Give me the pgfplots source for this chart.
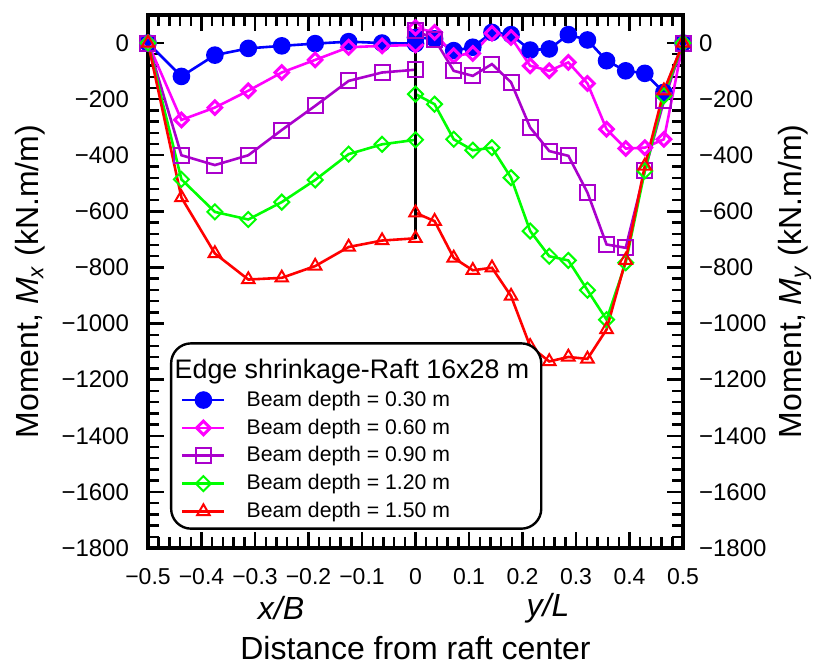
\documentclass[border=0pt]{standalone}
\usepackage{pgfplots}
\pgfplotsset{compat=1.18}
\usepackage{fontspec}
\setmainfont{Liberation Sans}
\definecolor{cblue}{RGB}{0,0,255}
\definecolor{cmag}{RGB}{255,0,255}
\definecolor{cpur}{RGB}{170,0,204}
\definecolor{cgrn}{RGB}{0,255,0}
\definecolor{cred}{RGB}{255,0,0}
\begin{document}
\begin{tikzpicture}
\begin{axis}[
  name=main,
  scale only axis, width=267.5pt, height=266.5pt,
  xmin=-0.5, xmax=0.5, ymin=-1800, ymax=100,
  xtick={-0.5,-0.4,-0.3,-0.2,-0.1,0,0.1,0.2,0.3,0.4,0.5},
  xticklabels={−0.5,−0.4,−0.3,−0.2,−0.1,0,0.1,0.2,0.3,0.4,0.5},
  ytick={-1800,-1600,-1400,-1200,-1000,-800,-600,-400,-200,0},
  yticklabels={−1800,−1600,−1400,−1200,−1000,−800,−600,−400,−200,0},
  minor x tick num=4, minor y tick num=4,
  tick align=inside,
  major tick length=8pt, minor tick length=5.5pt,
  tick style={line width=1.2pt, black},
  axis line style={line width=1.6pt},
  xticklabel style={font=\fontsize{11.5}{13}\selectfont, yshift=-6.5pt},
  yticklabel style={font=\fontsize{12}{14}\selectfont, xshift=-6pt},
  xlabel={Distance from raft center},
  x label style={font=\fontsize{16}{18}\selectfont, at={(axis description cs:0.5,-0.1876)}, anchor=center},
  ylabel={Moment, \textit{M}\textsubscript{\textit{x}} (kN.m/m)},
  y label style={font=\fontsize{16}{18}\selectfont, at={(axis description cs:-0.2206,0.5)}, anchor=center},
  legend cell align=left,
  legend image code/.code={\draw[mark repeat=2,mark phase=2] plot coordinates {(0pt,0pt) (10.5pt,0pt) (21pt,0pt)};},
  legend style={at={(0.041,0.034)}, anchor=south west, draw=black, line width=1.2pt,
    rounded corners=10pt, fill=white, inner xsep=5pt, inner ysep=3pt,
    font=\fontsize{10.6}{12}\selectfont, row sep=2.75pt, column sep=9.5pt,
    nodes={inner sep=1pt}},
]
\addlegendimage{empty legend}
\addlegendentry{\fontsize{13.4}{15}\selectfont\rule{0pt}{13.5pt}\hspace{-36pt}Edge shrinkage-Raft 16x28 m}

% Beam depth 0.30 m
\addplot[cblue, line width=1.3pt, sharp corners, mark=*, mark size=3.75pt, mark options={solid, sharp corners}]
 coordinates {(-0.5,0) (-0.4375,-119) (-0.375,-43) (-0.3125,-19) (-0.25,-10) (-0.1875,-2) (-0.125,5) (-0.0625,0) (0,-2)};
\addlegendentry{Beam depth = 0.30 m}
% Beam depth 0.60 m
\addplot[cmag, line width=1.3pt, sharp corners, mark=square, mark size=2.4pt, mark options={solid, sharp corners, rotate=45, fill=white, line width=1.5pt}]
 coordinates {(-0.5,0) (-0.4375,-274) (-0.375,-230) (-0.3125,-170) (-0.25,-105) (-0.1875,-60) (-0.125,-15) (-0.0625,-10) (0,-7)};
\addlegendentry{Beam depth = 0.60 m}
% Beam depth 0.90 m
\addplot[cpur, line width=1.3pt, sharp corners, mark=square, mark size=3.75pt, mark options={solid, sharp corners, line width=1pt}]
 coordinates {(-0.5,0) (-0.4375,-400) (-0.375,-435) (-0.3125,-400) (-0.25,-310) (-0.1875,-224) (-0.125,-135) (-0.0625,-105) (0,-95)};
\addlegendentry{Beam depth = 0.90 m}
% Beam depth 1.20 m
\addplot[cgrn, line width=1.3pt, sharp corners, mark=square, mark size=2.65pt, mark options={solid, sharp corners, rotate=45, line width=1pt}]
 coordinates {(-0.5,0) (-0.4375,-486) (-0.375,-602) (-0.3125,-629) (-0.25,-567) (-0.1875,-488) (-0.125,-396) (-0.0625,-361) (0,-345)};
\addlegendentry{Beam depth = 1.20 m}
% Beam depth 1.50 m
\addplot[cred, line width=1.3pt, sharp corners, mark=triangle, mark size=3.6pt, mark options={solid, sharp corners, line width=1pt}]
 coordinates {(-0.5,0) (-0.4375,-551) (-0.375,-750) (-0.3125,-843) (-0.25,-837) (-0.1875,-795) (-0.125,-727) (-0.0625,-704) (0,-696)};
\addlegendentry{Beam depth = 1.50 m}

% right half (y/L)
\addplot[cblue, line width=1.3pt, forget plot, mark=*, mark size=3.75pt, mark options={solid}]
 coordinates {(0,20) (0.0357,15) (0.0714,-27) (0.1071,-15) (0.1429,38) (0.1786,30) (0.2143,-25) (0.25,-21) (0.2857,30) (0.3214,11) (0.3571,-63) (0.3929,-99) (0.4286,-108) (0.4643,-176) (0.5,0)};
\addplot[cmag, line width=1.3pt, forget plot, mark=square, mark size=2.4pt, mark options={solid, rotate=45, fill=white, line width=1.5pt}]
 coordinates {(0,55) (0.0357,38) (0.0714,-45) (0.1071,-37) (0.1429,35) (0.1786,20) (0.2143,-81) (0.25,-99) (0.2857,-69) (0.3214,-144) (0.3571,-307) (0.3929,-376) (0.4286,-373) (0.4643,-343) (0.5,0)};
\addplot[cpur, line width=1.3pt, forget plot, mark=square, mark size=3.75pt, mark options={solid, line width=1pt}]
 coordinates {(0,45) (0.0357,14) (0.0714,-99) (0.1071,-117) (0.1429,-75) (0.1786,-140) (0.2143,-301) (0.25,-385) (0.2857,-402) (0.3214,-533) (0.3571,-718) (0.3929,-730) (0.4286,-456) (0.4643,-206) (0.5,0)};
\addplot[cgrn, line width=1.3pt, forget plot, mark=square, mark size=2.65pt, mark options={solid, rotate=45, line width=1pt}]
 coordinates {(0,-182) (0.0357,-218) (0.0714,-343) (0.1071,-382) (0.1429,-373) (0.1786,-480) (0.2143,-670) (0.25,-760) (0.2857,-775) (0.3214,-881) (0.3571,-986) (0.3929,-783) (0.4286,-456) (0.4643,-188) (0.5,0)};
\addplot[cred, line width=1.3pt, forget plot, mark=triangle, mark size=3.6pt, mark options={solid, line width=1pt}]
 coordinates {(0,-605) (0.0357,-635) (0.0714,-766) (0.1071,-810) (0.1429,-801) (0.1786,-902) (0.2143,-1081) (0.25,-1135) (0.2857,-1119) (0.3214,-1126) (0.3571,-1021) (0.3929,-774) (0.4286,-438) (0.4643,-170) (0.5,0)};

% centre divider
\addplot[black, line width=1.5pt, forget plot] coordinates {(0,100) (0,-700)};
\end{axis}

\begin{axis}[
  scale only axis, width=267.5pt, height=266.5pt,
  xmin=-0.5, xmax=0.5, ymin=-1800, ymax=100,
  hide x axis, axis y line*=right,
  axis line style={line width=1.6pt},
  ytick={-1800,-1600,-1400,-1200,-1000,-800,-600,-400,-200,0},
  yticklabels={−1800,−1600,−1400,−1200,−1000,−800,−600,−400,−200,0},
  major tick length=0pt, minor y tick num=0,
  yticklabel style={font=\fontsize{12}{14}\selectfont, xshift=4.5pt},
  ylabel={Moment, \textit{M}\textsubscript{\textit{y}} (kN.m/m)},
  y label style={font=\fontsize{16}{18}\selectfont, at={(axis description cs:1.209,0.5)}, anchor=center, rotate=0},
]
\end{axis}

\node[font=\fontsize{16}{18}\selectfont\itshape, xshift=66.5pt, yshift=-30pt] at (main.south west) {x/B};
\node[font=\fontsize{16}{18}\selectfont\itshape, xshift=200pt, yshift=-30pt] at (main.south west) {y/L};

\pgfresetboundingbox
\path[use as bounding box] (main.south west) ++(-74pt,-60.5pt) rectangle ([xshift=68pt,yshift=7.5pt]main.north east);
\end{tikzpicture}
\end{document}
